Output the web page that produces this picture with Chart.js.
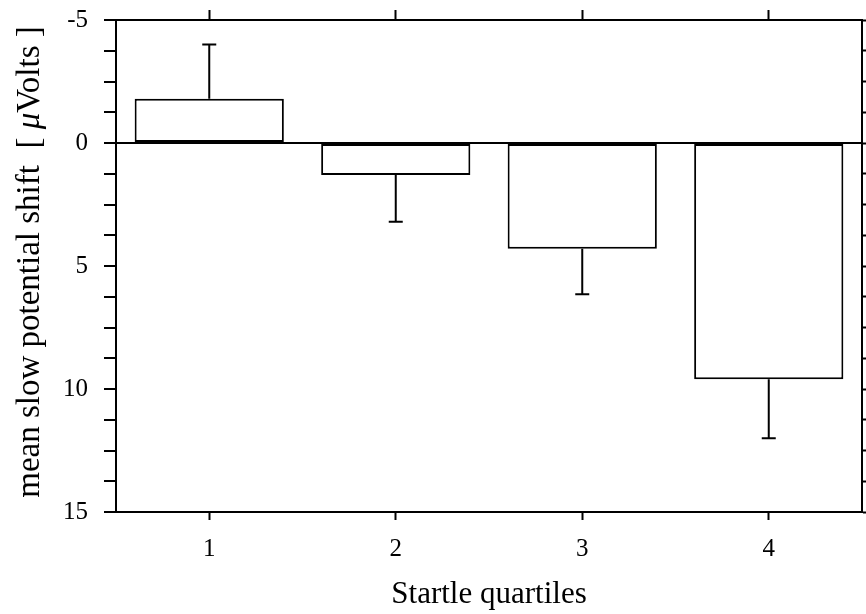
<!DOCTYPE html>
<html>
<head>
<meta charset="utf-8">
<script src="https://cdn.jsdelivr.net/npm/chart.js@4"></script>
<style>
html, body { margin: 0; padding: 0; background: #fff; }
</style>
</head>
<body>
<canvas id="startleChart" width="866" height="614"></canvas>
<script>
// values (y axis is reversed: negative up)
var quartiles = ['1', '2', '3', '4'];
var meanShift = [-1.8, 1.3, 4.3, 9.6];
var shiftErr = [2.2, 1.9, 1.85, 2.4];
var yMin = -5, yMax = 15, yStep = 1.25, yLabelEvery = 5;

var serif = "'Liberation Serif', 'Times New Roman', serif";

// error bars go away from zero only, with a short cap
var errorBars = {
    id: 'errorBars',
    afterDatasetsDraw: function (chart) {
        var ctx = chart.ctx;
        var yScale = chart.scales.y;
        var meta = chart.getDatasetMeta(0);
        ctx.save();
        ctx.strokeStyle = '#000';
        ctx.lineWidth = 2;
        meta.data.forEach(function (bar, i) {
            var v = meanShift[i];
            var end = v < 0 ? v - shiftErr[i] : v + shiftErr[i];
            var y0 = yScale.getPixelForValue(v);
            var y1 = yScale.getPixelForValue(end);
            ctx.beginPath();
            ctx.moveTo(bar.x, y0);
            ctx.lineTo(bar.x, y1);
            ctx.moveTo(bar.x - 7, y1);
            ctx.lineTo(bar.x + 7, y1);
            ctx.stroke();
        });
        ctx.restore();
    }
};

// y title with an italic mu
var yTitle = {
    id: 'yTitle',
    afterDraw: function (chart) {
        var ctx = chart.ctx;
        var area = chart.chartArea;
        var parts = [
            ['mean slow potential shift  [ ', 'normal'],
            ['\u03bc', 'italic'],
            ['Volts ]', 'normal']
        ];
        var size = 33;
        ctx.save();
        ctx.fillStyle = '#000';
        ctx.textBaseline = 'middle';
        var total = 0;
        parts.forEach(function (p) {
            ctx.font = p[1] + ' ' + size + 'px ' + serif;
            total += ctx.measureText(p[0]).width;
        });
        ctx.translate(30, (area.top + area.bottom) / 2 - 4);
        ctx.rotate(-Math.PI / 2);
        var x = -total / 2;
        parts.forEach(function (p) {
            ctx.font = p[1] + ' ' + size + 'px ' + serif;
            ctx.textAlign = 'left';
            ctx.fillText(p[0], x, 0);
            x += ctx.measureText(p[0]).width;
        });
        ctx.restore();
    }
};

function noPad(s) {
    s.paddingTop = 0;
    s.paddingBottom = 0;
    s.paddingLeft = 0;
    s.paddingRight = 0;
}

var ctx = document.getElementById('startleChart');
var startleChart = new Chart(ctx, {
    type: 'bar',
    data: {
        labels: quartiles,
        datasets: [{
            data: meanShift,
            backgroundColor: '#fff',
            borderColor: '#000',
            borderWidth: 2,
            borderSkipped: false,
            barPercentage: 0.8,
            categoryPercentage: 1
        }]
    },
    options: {
        responsive: false,
        animation: false,
        events: [],
        layout: { padding: 0 },
        plugins: {
            legend: { display: false },
            tooltip: { enabled: false }
        },
        scales: {
            x: {
                position: 'bottom',
                grid: { display: true, drawOnChartArea: false, offset: false, tickLength: 8, tickColor: '#000', tickWidth: 2 },
                border: { color: '#000', width: 2 },
                ticks: { color: '#000', font: { family: serif, size: 25 }, padding: 14 },
                title: { display: true, text: 'Startle quartiles', color: '#000', font: { family: serif, size: 31 }, padding: { top: 0, bottom: 1 } },
                afterFit: function (s) { s.height = 102; noPad(s); }
            },
            x2: {
                type: 'category',
                labels: quartiles,
                position: 'top',
                offset: true,
                grid: { display: true, drawOnChartArea: false, offset: false, tickLength: 10, tickColor: '#000', tickWidth: 2 },
                border: { color: '#000', width: 2 },
                ticks: { display: false },
                afterFit: function (s) { s.height = 20; noPad(s); }
            },
            y: {
                position: 'left',
                reverse: true,
                min: yMin,
                max: yMax,
                grid: {
                    display: true,
                    drawOnChartArea: true,
                    tickLength: 12,
                    tickColor: '#000',
                    tickWidth: 2,
                    lineWidth: 2,
                    color: function (c) { return c.tick && c.tick.value === 0 ? '#000' : 'rgba(0,0,0,0)'; }
                },
                border: { color: '#000', width: 2 },
                ticks: {
                    stepSize: yStep,
                    autoSkip: false,
                    color: '#000',
                    font: { family: serif, size: 25 },
                    padding: 16,
                    callback: function (v) { return v % yLabelEvery === 0 ? String(v) : ''; }
                },
                afterFit: function (s) { s.width = 116; noPad(s); }
            },
            y2: {
                position: 'right',
                reverse: true,
                min: yMin,
                max: yMax,
                grid: { display: true, drawOnChartArea: false, tickLength: 8, tickColor: '#000', tickWidth: 2 },
                border: { color: '#000', width: 2 },
                ticks: { stepSize: yStep, autoSkip: false, display: false },
                afterFit: function (s) { s.width = 4; noPad(s); }
            }
        }
    },
    plugins: [errorBars, yTitle]
});
</script>
</body>
</html>
